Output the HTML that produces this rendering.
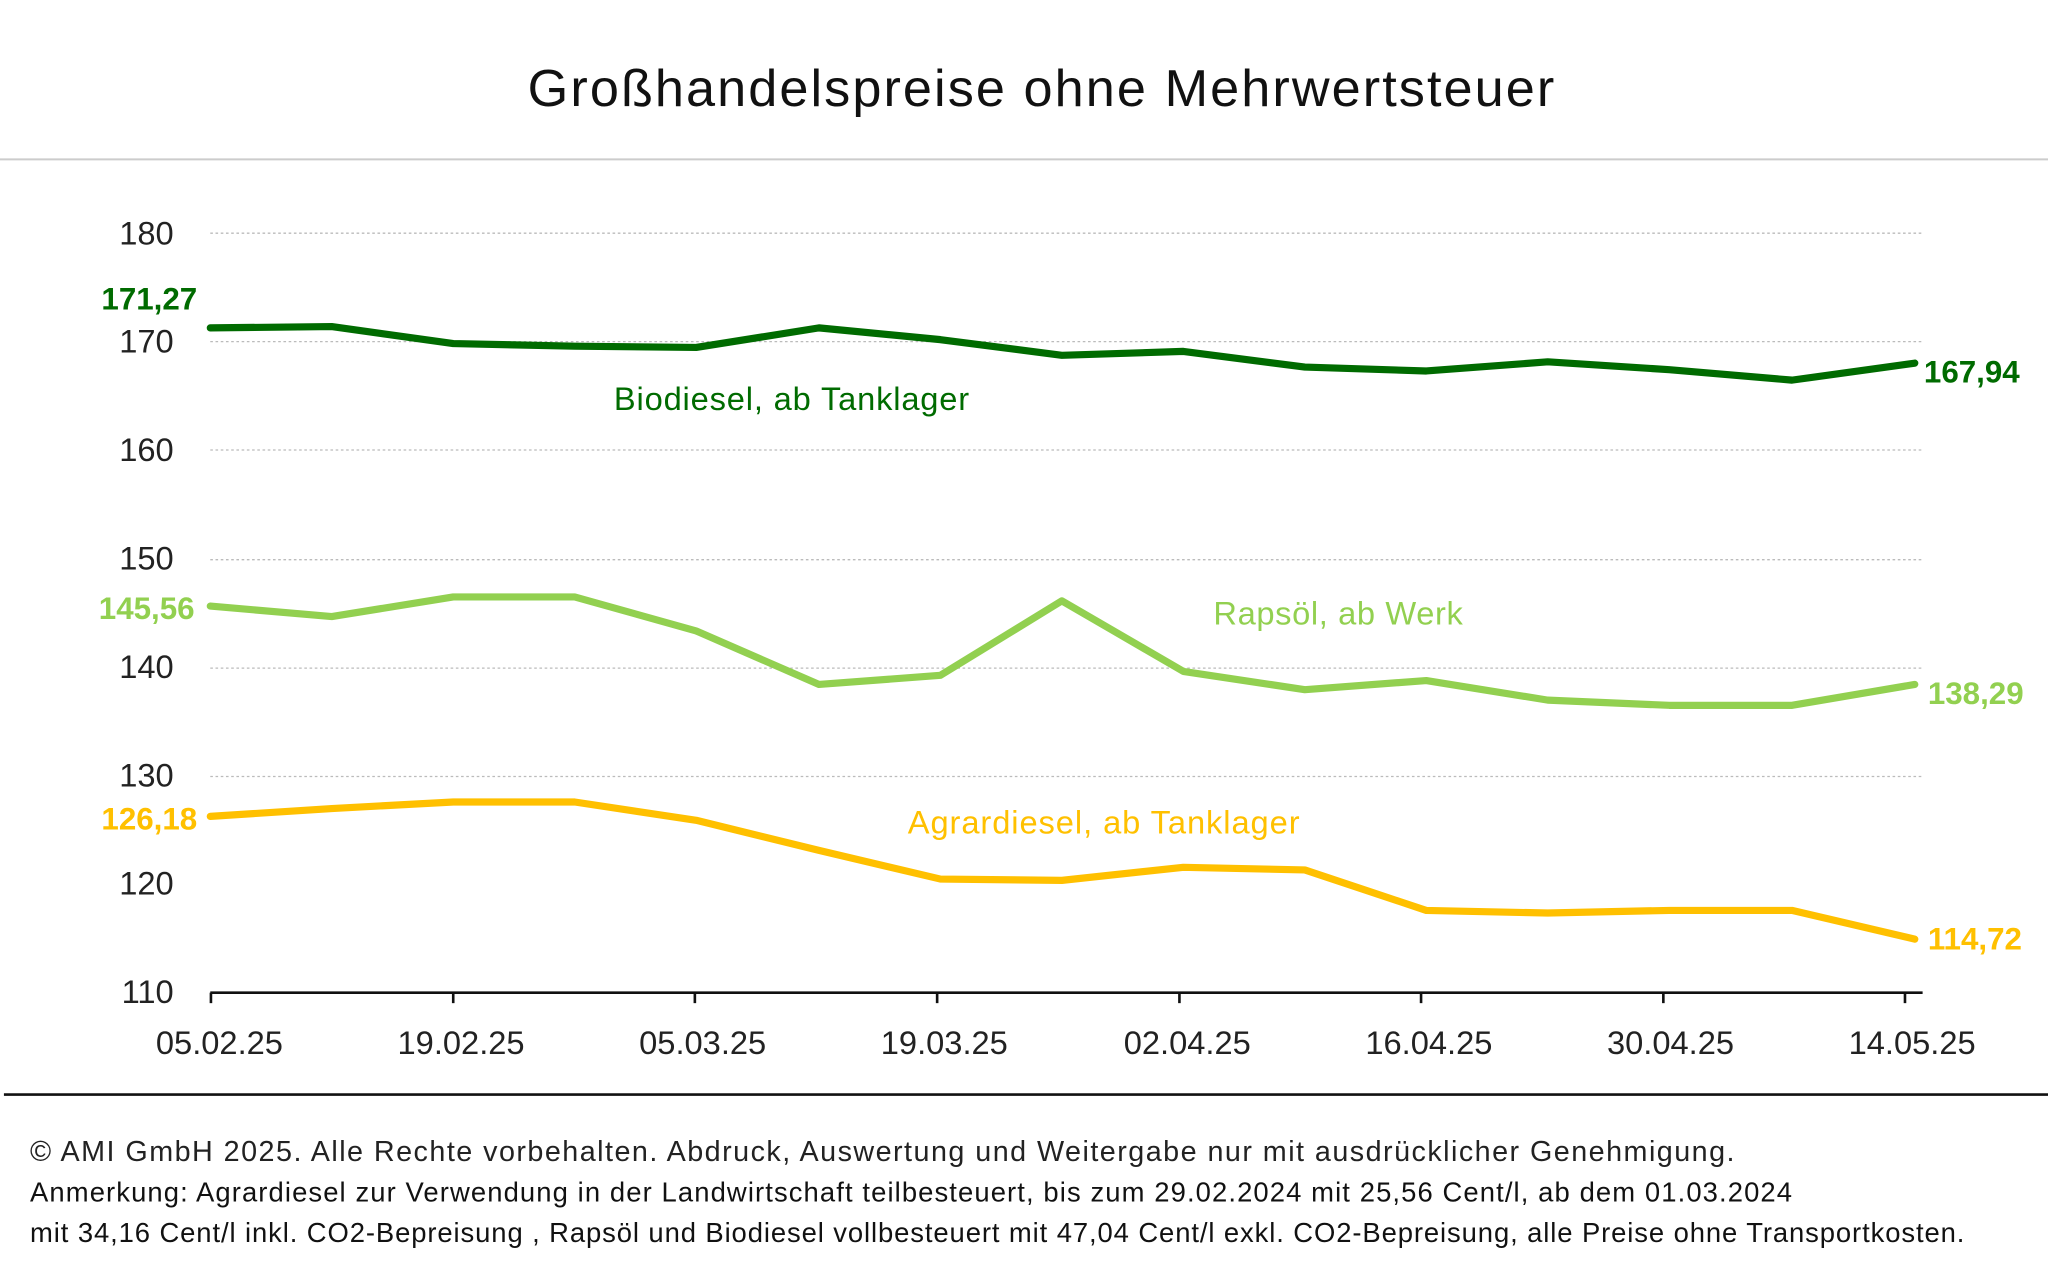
<!DOCTYPE html>
<html><head><meta charset="utf-8"><style>
html,body{margin:0;padding:0;background:#fff}
svg{display:block}
text{font-family:"Liberation Sans",sans-serif}
</style></head><body>
<svg width="2048" height="1284" viewBox="0 0 1568 983" xmlns="http://www.w3.org/2000/svg">
<rect width="1568" height="983" fill="#fff"/>
<text x="797" y="81" font-size="40" text-anchor="middle" fill="#111" textLength="786">Großhandelspreise ohne Mehrwertsteuer</text>
<line x1="0" y1="122" x2="1568" y2="122" stroke="#ccc" stroke-width="1.5"/>
<g stroke="#bbb" stroke-width="1" stroke-dasharray="2,2">
<line x1="161" y1="178.5" x2="1472" y2="178.5"/>
<line x1="161" y1="261.5" x2="1472" y2="261.5"/>
<line x1="161" y1="344.5" x2="1472" y2="344.5"/>
<line x1="161" y1="428.5" x2="1472" y2="428.5"/>
<line x1="161" y1="511.5" x2="1472" y2="511.5"/>
<line x1="161" y1="594.5" x2="1472" y2="594.5"/>
</g>
<g font-size="25" fill="#222" text-anchor="end">
<text x="133" y="187">180</text><text x="133" y="270">170</text><text x="133" y="353">160</text>
<text x="133" y="436">150</text><text x="133" y="519">140</text><text x="133" y="602">130</text>
<text x="133" y="685">120</text><text x="133" y="768">110</text>
</g>
<line x1="161" y1="760" x2="1472" y2="760" stroke="#111" stroke-width="2"/>
<g stroke="#111" stroke-width="2">
<line x1="161.5" y1="760" x2="161.5" y2="768"/><line x1="347" y1="760" x2="347" y2="768"/>
<line x1="532" y1="760" x2="532" y2="768"/><line x1="717.5" y1="760" x2="717.5" y2="768"/>
<line x1="903" y1="760" x2="903" y2="768"/><line x1="1088" y1="760" x2="1088" y2="768"/>
<line x1="1273.5" y1="760" x2="1273.5" y2="768"/><line x1="1458.5" y1="760" x2="1458.5" y2="768"/>
</g>
<g font-size="25" fill="#222" text-anchor="middle">
<text x="168" y="807">05.02.25</text><text x="353" y="807">19.02.25</text><text x="538" y="807">05.03.25</text>
<text x="723" y="807">19.03.25</text><text x="909" y="807">02.04.25</text><text x="1094" y="807">16.04.25</text>
<text x="1279" y="807">30.04.25</text><text x="1464" y="807">14.05.25</text>
</g>
<g fill="none" stroke-width="5.5" stroke-linejoin="round" stroke-linecap="round">
<polyline stroke="#006b00" points="161,251 254,250 347,263 440,265 533,266 627,251 720,260 813,272 906,269 999,281 1092,284 1185,277 1278,283 1372,291 1466,278"/>
<polyline stroke="#92d050" points="161,464 254,472 347,457 440,457 533,483 627,524 720,517 813,460 906,514 999,528 1092,521 1185,536 1278,540 1372,540 1466,524"/>
<polyline stroke="#ffc000" points="161,625 254,619 347,614 440,614 533,628 627,651 720,673 813,674 906,664 999,666 1092,697 1185,699 1278,697 1372,697 1466,719"/>
</g>
<g font-size="24" font-weight="bold">
<text x="151" y="237" text-anchor="end" fill="#006b00">171,27</text>
<text x="149" y="474" text-anchor="end" fill="#92d050">145,56</text>
<text x="151" y="635" text-anchor="end" fill="#ffc000">126,18</text>
<text x="1473" y="293" fill="#006b00">167,94</text>
<text x="1476" y="539" fill="#92d050">138,29</text>
<text x="1476" y="727" fill="#ffc000">114,72</text>
</g>
<text x="470" y="314" font-size="25" fill="#006b00" textLength="272">Biodiesel, ab Tanklager</text>
<text x="929" y="478" font-size="25" fill="#92d050" textLength="191">Rapsöl, ab Werk</text>
<text x="695" y="638" font-size="25" fill="#ffc000" textLength="300">Agrardiesel, ab Tanklager</text>
<line x1="3" y1="838" x2="1568" y2="838" stroke="#111" stroke-width="2"/>
<text x="23" y="889" font-size="22" fill="#222" textLength="1305">© AMI GmbH 2025.  Alle Rechte vorbehalten.  Abdruck, Auswertung und Weitergabe nur mit ausdrücklicher Genehmigung.</text>
<text x="23" y="920" font-size="21" fill="#111" textLength="1349">Anmerkung: Agrardiesel zur Verwendung in der Landwirtschaft teilbesteuert, bis zum 29.02.2024 mit 25,56 Cent/l, ab dem 01.03.2024</text>
<text x="23" y="951" font-size="21" fill="#111" textLength="1481">mit 34,16 Cent/l inkl. CO2-Bepreisung , Rapsöl und Biodiesel vollbesteuert mit 47,04 Cent/l exkl. CO2-Bepreisung, alle Preise ohne Transportkosten.</text>
</svg>
</body></html>
